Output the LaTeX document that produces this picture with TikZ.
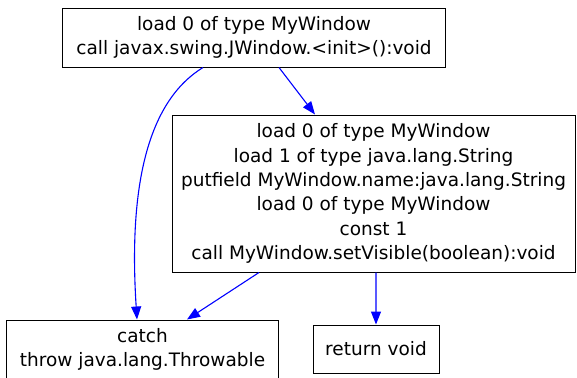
\documentclass[tikz,border=0pt]{standalone}
\usepackage{fontspec}
\setmainfont{DejaVu Sans}
\usetikzlibrary{arrows.meta,calc}
\tikzset{
  blk/.style={draw=black,line width=1bp,inner sep=0pt,align=center,
    font=\fontsize{18.5bp}{24.3bp}\selectfont},
  edge/.style={draw=blue,line width=1.1bp,-{Triangle[length=13bp,width=10bp]}}
}
\begin{document}
\begin{tikzpicture}[x=1bp,y=-1bp]
\useasboundingbox (0,0) rectangle (577,377);
\node[blk,minimum width=382bp,minimum height=59bp] (top) at (254,37.5)
  {load 0 of type MyWindow\\call javax.swing.JWindow.<init>():void};
\node[blk,minimum width=403bp,minimum height=157bp] (mid) at (373.5,193.5)
  {load 0 of type MyWindow\\load 1 of type java.lang.String\\putfield MyWindow.name:java.lang.String\\load 0 of type MyWindow\\const 1\\call MyWindow.setVisible(boolean):void};
\node[blk,minimum width=271bp,minimum height=59bp] (catch) at (142.5,349.5)
  {catch\\throw java.lang.Throwable};
\node[blk,minimum width=126bp,minimum height=48bp] (ret) at (376,349)
  {return void};
\draw[edge] ([xshift=25bp]top.south) -- ([xshift=-58.5bp]mid.north);
\draw[edge] ([xshift=-51bp]top.south) .. controls (150,100) and (128,180) .. ([xshift=-5.5bp]catch.north);
\draw[edge] ([xshift=-114.5bp]mid.south) -- ([xshift=44.5bp]catch.north);
\draw[edge] ([xshift=2.5bp]mid.south) -- (ret.north);
\end{tikzpicture}
\end{document}
